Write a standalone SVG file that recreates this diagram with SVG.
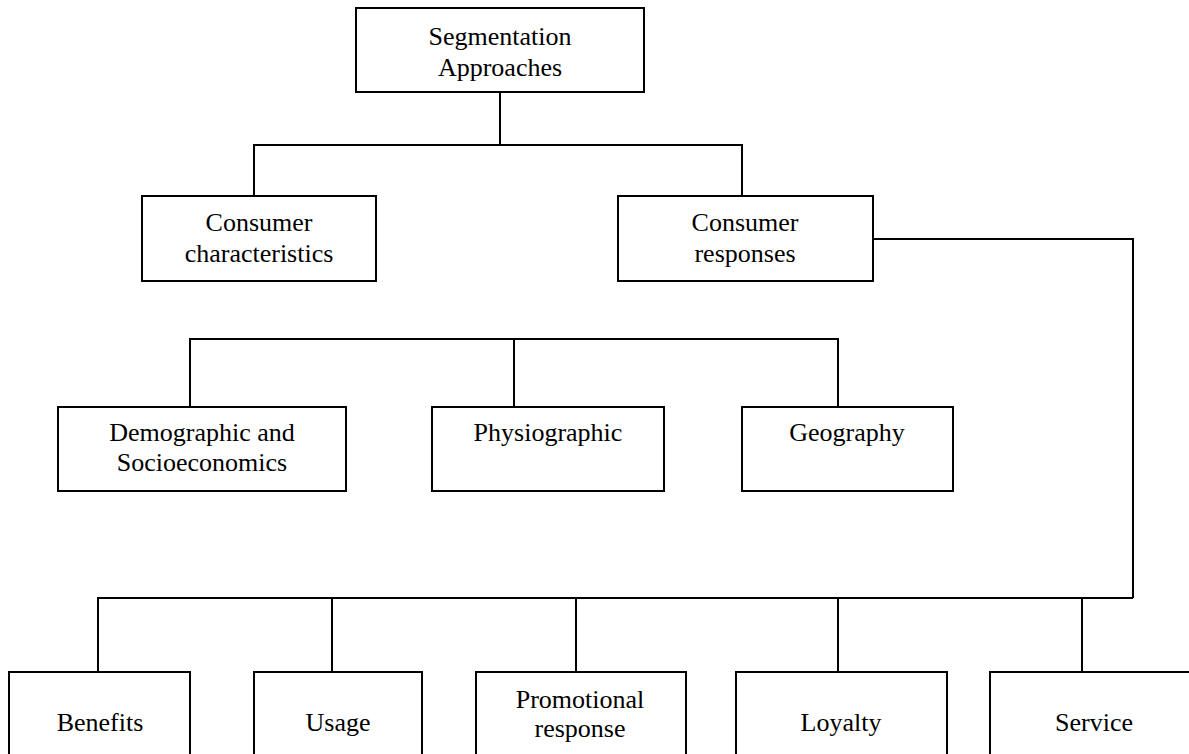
<svg xmlns="http://www.w3.org/2000/svg" width="1189" height="754" viewBox="0 0 1189 754">
<style>
.box{fill:#fff;stroke:#000;stroke-width:2}
.lbl{font-family:"Liberation Serif","Times New Roman",serif;font-size:26px;fill:#000;text-anchor:middle}
.ln{fill:none;stroke:#000;stroke-width:2}
</style>
<rect width="1189" height="754" fill="#fff"/>
<g id="connectors">
<path class="ln" d="M500 92V145M254 196V145H742V196"/>
<path class="ln" d="M873 239H1133V598M98 672V598H1133M332 598V672M576 598V672M838 598V672M1082 598V672"/>
<path class="ln" d="M190 407V339H838V407M514 339V407"/>
</g>
<g id="n-segmentation">
<rect class="box" x="356" y="8" width="288" height="84"/>
<text class="lbl" x="500" y="45">Segmentation</text>
<text class="lbl" x="500" y="76">Approaches</text>
</g>
<g id="n-characteristics">
<rect class="box" x="142" y="196" width="234" height="85"/>
<text class="lbl" x="259" y="231">Consumer</text>
<text class="lbl" x="259" y="262">characteristics</text>
</g>
<g id="n-responses">
<rect class="box" x="618" y="196" width="255" height="85"/>
<text class="lbl" x="745" y="231">Consumer</text>
<text class="lbl" x="745" y="262">responses</text>
</g>
<g id="n-demographic">
<rect class="box" x="58" y="407" width="288" height="84"/>
<text class="lbl" x="202" y="441">Demographic and</text>
<text class="lbl" x="202" y="471">Socioeconomics</text>
</g>
<g id="n-physiographic">
<rect class="box" x="432" y="407" width="232" height="84"/>
<text class="lbl" x="548" y="441">Physiographic</text>
</g>
<g id="n-geography">
<rect class="box" x="742" y="407" width="211" height="84"/>
<text class="lbl" x="847" y="441">Geography</text>
</g>
<g id="n-benefits">
<rect class="box" x="9" y="672" width="181" height="100"/>
<text class="lbl" x="100" y="731">Benefits</text>
</g>
<g id="n-usage">
<rect class="box" x="254" y="672" width="168" height="100"/>
<text class="lbl" x="338" y="731">Usage</text>
</g>
<g id="n-promotional">
<rect class="box" x="476" y="672" width="210" height="100"/>
<text class="lbl" x="580" y="708">Promotional</text>
<text class="lbl" x="580" y="737">response</text>
</g>
<g id="n-loyalty">
<rect class="box" x="736" y="672" width="211" height="100"/>
<text class="lbl" x="841" y="731">Loyalty</text>
</g>
<g id="n-service">
<rect class="box" x="990" y="672" width="210" height="100"/>
<text class="lbl" x="1094" y="731">Service</text>
</g>
</svg>
